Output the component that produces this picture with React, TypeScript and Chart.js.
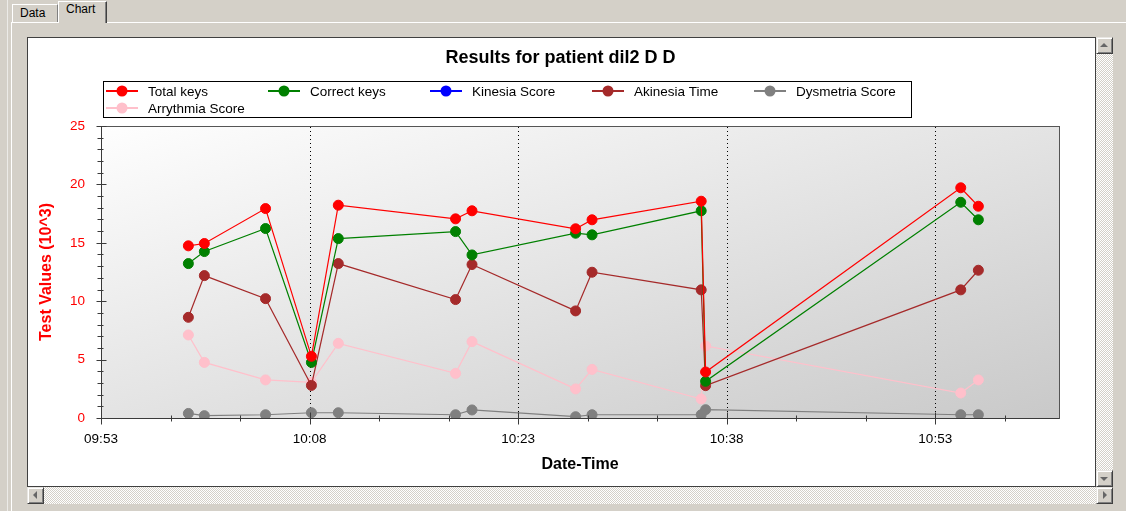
import React, { useEffect, useRef } from "react";
import { Chart, registerables } from "chart.js";

Chart.register(...registerables);

// ---------- data ----------
const times = [
  "09:59:17", "10:00:26", "10:04:50", "10:08:08", "10:10:04", "10:18:30", "10:19:41",
  "10:27:08", "10:28:19", "10:36:10", "10:36:29", "10:54:50", "10:56:06",
];
const totalKeys = [14.74, 14.94, 17.93, 5.28, 18.22, 17.05, 17.74, 16.2, 16.97, 18.56, 3.94, 19.71, 18.13];
const correctKeys = [13.22, 14.25, 16.22, 4.76, 15.36, 15.96, 13.96, 15.82, 15.68, 17.74, 3.14, 18.47, 16.97];
const kinesiaScore: (number | null)[] = [];
const akinesiaTime = [8.62, 12.19, 10.22, 2.79, 13.22, 10.14, 13.14, 9.17, 12.48, 10.97, 2.77, 10.97, 12.65];
const dysmetriaScore = [0.39, 0.2, 0.28, 0.45, 0.45, 0.28, 0.69, 0.11, 0.28, 0.28, 0.71, 0.28, 0.28];
const arrythmiaScore = [7.11, 4.76, 3.26, 3.05, 6.39, 3.82, 6.54, 2.49, 4.16, 1.63, 6.17, 2.14, 3.26];

const seriesLabels = ["Total keys", "Correct keys", "Kinesia Score", "Akinesia Time", "Dysmetria Score", "Arrythmia Score"];
const seriesColors = ["#ff0000", "#008000", "#0000ff", "#a52a2a", "#808080", "#ffc0cb"];
const seriesValues = [totalKeys, correctKeys, kinesiaScore, akinesiaTime, dysmetriaScore, arrythmiaScore];

const axisStart = "09:53";
const axisEndMinutes = 68.9;
const xMajorStep = 15;
const xMinorStep = 5;
const yMax = 25;
const yMajorStep = 5;
const yMinorStep = 1;

const chartTitle = "Results for patient dil2 D D";
const yTitle = "Test Values (10^3)";
const xTitle = "Date-Time";

// ---------- helpers ----------
const FONT = 'Arial, "Liberation Sans", sans-serif';
const toSec = (s: string) => {
  const p = s.split(":").map(Number);
  return p[0] * 3600 + p[1] * 60 + (p[2] || 0);
};
const startSec = toSec(axisStart);
const toMin = (s: string) => (toSec(s) - startSec) / 60;
const fmt = (v: number) => {
  const total = Math.round(startSec / 60 + v);
  const h = Math.floor(total / 60);
  const m = total % 60;
  return String(h).padStart(2, "0") + ":" + String(m).padStart(2, "0");
};

const decorPlugin = {
  id: "decor",
  beforeDraw(chart: any) {
    const { ctx, chartArea: a, width, height } = chart;
    ctx.save();
    ctx.fillStyle = "#ffffff";
    ctx.fillRect(0, 0, width, height);
    ctx.translate(a.left, a.top);
    ctx.scale(a.right - a.left, a.bottom - a.top);
    const g = ctx.createLinearGradient(0, 0, 1, 1);
    g.addColorStop(0, "#fefefe");
    g.addColorStop(1, "#c9c9c9");
    ctx.fillStyle = g;
    ctx.fillRect(0, 0, 1, 1);
    ctx.restore();
  },
  beforeDatasetsDraw(chart: any) {
    const { ctx, chartArea: a, scales } = chart;
    const xs = scales.x;
    ctx.save();
    ctx.strokeStyle = "#000000";
    ctx.lineWidth = 1;
    ctx.setLineDash([1, 3]);
    for (let v = xMajorStep; v <= axisEndMinutes; v += xMajorStep) {
      const px = Math.round(xs.getPixelForValue(v)) + 0.5;
      ctx.beginPath();
      ctx.moveTo(px, a.top + 1);
      ctx.lineTo(px, a.bottom);
      ctx.stroke();
    }
    ctx.restore();
  },
  afterDatasetsDraw(chart: any) {
    const { ctx, chartArea: a, scales } = chart;
    const xs = scales.x;
    const ys = scales.y;
    ctx.save();
    // plot frame
    ctx.strokeStyle = "#555555";
    ctx.lineWidth = 1;
    ctx.strokeRect(Math.round(a.left) + 0.5, Math.round(a.top) + 0.5, Math.round(a.right - a.left), Math.round(a.bottom - a.top));
    const ax = Math.round(a.left) + 0.5;
    const ay = Math.round(a.bottom) + 0.5;
    ctx.strokeStyle = "#3a3a3a";
    ctx.beginPath();
    ctx.moveTo(ax, a.top);
    ctx.lineTo(ax, ay);
    ctx.lineTo(a.right, ay);
    ctx.stroke();
    // y ticks
    for (let v = 0; v <= yMax; v += yMinorStep) {
      const py = Math.round(ys.getPixelForValue(v)) + 0.5;
      const major = v % yMajorStep === 0;
      ctx.beginPath();
      ctx.moveTo(ax - (major ? 5 : 4), py);
      ctx.lineTo(ax + (major ? 5 : 2), py);
      ctx.stroke();
    }
    // x ticks
    for (let v = 0; v <= axisEndMinutes; v += xMinorStep) {
      const px = Math.round(xs.getPixelForValue(v)) + 0.5;
      const major = v % xMajorStep === 0;
      ctx.beginPath();
      ctx.moveTo(px, ay - (major ? 6 : 3));
      ctx.lineTo(px, ay + (major ? 6 : 3));
      ctx.stroke();
    }
    // title
    ctx.fillStyle = "#000000";
    ctx.font = `bold 18px ${FONT}`;
    ctx.textAlign = "center";
    ctx.textBaseline = "middle";
    ctx.fillText(chartTitle, chart.width / 2 - 1, 20);
    // x title
    ctx.font = `bold 16px ${FONT}`;
    ctx.fillText(xTitle, (a.left + a.right) / 2, 427);
    // y title
    ctx.save();
    ctx.translate(19, (a.top + a.bottom) / 2);
    ctx.rotate(-Math.PI / 2);
    ctx.fillStyle = "#ff0000";
    ctx.fillText(yTitle, 0, 0);
    ctx.restore();
    // legend
    ctx.fillStyle = "#ffffff";
    ctx.fillRect(75.5, 43.5, 808, 36);
    ctx.strokeStyle = "#000000";
    ctx.strokeRect(75.5, 43.5, 808, 36);
    ctx.font = `13.5px ${FONT}`;
    ctx.textAlign = "left";
    chart.data.datasets.forEach((ds: any, i: number) => {
      const col = i % 5;
      const row = Math.floor(i / 5);
      const x0 = 78 + col * 162;
      const y0 = 53 + row * 17;
      ctx.strokeStyle = ds.borderColor;
      ctx.lineWidth = 2;
      ctx.beginPath();
      ctx.moveTo(x0, y0);
      ctx.lineTo(x0 + 32, y0);
      ctx.stroke();
      ctx.fillStyle = ds.backgroundColor;
      ctx.beginPath();
      ctx.arc(x0 + 16, y0, 5.5, 0, Math.PI * 2);
      ctx.fill();
      ctx.fillStyle = "#000000";
      ctx.fillText(ds.label, x0 + 42, y0 + 1);
    });
    ctx.restore();
  },
};

function ChartCanvas() {
  const ref = useRef<HTMLCanvasElement | null>(null);
  useEffect(() => {
    if (!ref.current) return;
    const datasets = seriesLabels.map((label, i) => ({
      label,
      data: seriesValues[i].map((v, j) => ({ x: toMin(times[j]), y: v })),
      borderColor: seriesColors[i],
      backgroundColor: seriesColors[i],
      pointBackgroundColor: seriesColors[i],
      pointBorderColor: seriesColors[i],
      borderWidth: 1.2,
      pointRadius: 5,
      pointBorderWidth: 1,
      tension: 0,
    }));
    const chart = new Chart(ref.current, {
      type: "line",
      data: { datasets },
      options: {
        animation: false,
        responsive: false,
        devicePixelRatio: 1,
        layout: { padding: { top: 88, right: 36, bottom: 0, left: 0 } },
        plugins: { legend: { display: false }, title: { display: false }, tooltip: { enabled: false } },
        scales: {
          x: {
            type: "linear",
            min: 0,
            max: axisEndMinutes,
            grid: { display: false, drawTicks: false },
            border: { display: false },
            ticks: {
              stepSize: xMajorStep,
              includeBounds: false,
              autoSkip: false,
              maxRotation: 0,
              padding: 13,
              color: "#000000",
              font: { family: FONT, size: 13.5 },
              callback: (v: any) => fmt(Number(v)),
            },
            afterFit: (s: any) => {
              s.height = 68;
            },
          },
          y: {
            type: "linear",
            min: 0,
            max: yMax,
            grid: { display: false, drawTicks: false },
            border: { display: false },
            ticks: {
              stepSize: yMajorStep,
              padding: 16,
              color: "#ff0000",
              font: { family: FONT, size: 13.5 },
            },
            afterFit: (s: any) => {
              s.width = 73;
            },
          },
        },
      },
      plugins: [decorPlugin],
    });
    return () => chart.destroy();
  }, []);
  return <canvas ref={ref} width={1067} height={448} style={{ display: "block" }} />;
}

const checker = "repeating-conic-gradient(#ffffff 0% 25%, #d4d0c8 0% 50%) 0 0 / 2px 2px";

function Arrow({ dir }: { dir: string }) {
  const c = "#666666";
  const t = "transparent";
  let st: React.CSSProperties = { position: "absolute", width: 0, height: 0 };
  if (dir === "up") st = { ...st, left: 3, top: 5, borderLeft: `4px solid ${t}`, borderRight: `4px solid ${t}`, borderBottom: `4px solid ${c}` };
  if (dir === "down") st = { ...st, left: 3, top: 6, borderLeft: `4px solid ${t}`, borderRight: `4px solid ${t}`, borderTop: `4px solid ${c}` };
  if (dir === "left") st = { ...st, left: 5, top: 3, borderTop: `4px solid ${t}`, borderBottom: `4px solid ${t}`, borderRight: `4px solid ${c}` };
  if (dir === "right") st = { ...st, left: 6, top: 3, borderTop: `4px solid ${t}`, borderBottom: `4px solid ${t}`, borderLeft: `4px solid ${c}` };
  return <div style={st} />;
}

function Btn({ left, top, dir }: { left: number; top: number; dir: string }) {
  return (
    <div
      style={{
        position: "absolute",
        left,
        top,
        width: 17,
        height: 17,
        boxSizing: "border-box",
        background: "#d4d0c8",
        borderTop: "1px solid #e8e6e2",
        borderLeft: "1px solid #e8e6e2",
        borderRight: "1px solid #404040",
        borderBottom: "1px solid #404040",
        boxShadow: "inset 1px 1px 0 #ffffff, inset -1px -1px 0 #808080",
      }}
    >
      <Arrow dir={dir} />
    </div>
  );
}

export default function App() {
  const abs = (s: React.CSSProperties): React.CSSProperties => ({ position: "absolute", ...s });
  return (
    <div
      style={{
        position: "fixed",
        left: 0,
        top: 0,
        width: 1126,
        height: 511,
        background: "#d4d0c8",
        overflow: "hidden",
        fontFamily: FONT,
      }}
    >
      {/* outer left lines */}
      <div style={abs({ left: 7, top: 0, width: 1, height: 511, background: "#ecebe8" })} />
      <div style={abs({ left: 11, top: 22, width: 1, height: 489, background: "#ffffff" })} />
      {/* tab strip top line */}
      <div style={abs({ left: 11, top: 22, width: 47, height: 1, background: "#ffffff" })} />
      <div style={abs({ left: 107, top: 22, width: 1019, height: 1, background: "#ffffff" })} />
      {/* Data tab */}
      <div
        style={abs({
          left: 12,
          top: 4,
          width: 46,
          height: 18,
          boxSizing: "border-box",
          borderTop: "1px solid #ffffff",
          borderLeft: "1px solid #ffffff",
          borderRight: "1px solid #808080",
        })}
      />
      <div style={abs({ left: 20, top: 6, fontSize: 12, lineHeight: "15px", color: "#000" })}>Data</div>
      {/* Chart tab (selected) */}
      <div
        style={abs({
          left: 58,
          top: 1,
          width: 49,
          height: 22,
          boxSizing: "border-box",
          background: "#d4d0c8",
          borderTop: "1px solid #ffffff",
          borderLeft: "1px solid #ffffff",
          borderRight: "1px solid #404040",
          boxShadow: "inset -1px 0 0 #808080",
        })}
      />
      <div style={abs({ left: 66, top: 2, fontSize: 12, lineHeight: "15px", color: "#000" })}>Chart</div>
      {/* white chart panel */}
      <div
        style={abs({
          left: 27,
          top: 37,
          width: 1069,
          height: 450,
          boxSizing: "border-box",
          border: "1px solid #404040",
          background: "#ffffff",
        })}
      >
        <ChartCanvas />
      </div>
      {/* vertical scrollbar */}
      <div style={abs({ left: 1096, top: 37, width: 17, height: 450, background: checker })} />
      <Btn left={1096} top={37} dir="up" />
      <Btn left={1096} top={470} dir="down" />
      {/* horizontal scrollbar */}
      <div style={abs({ left: 27, top: 487, width: 1086, height: 17, background: checker })} />
      <Btn left={27} top={487} dir="left" />
      <Btn left={1096} top={487} dir="right" />
    </div>
  );
}
